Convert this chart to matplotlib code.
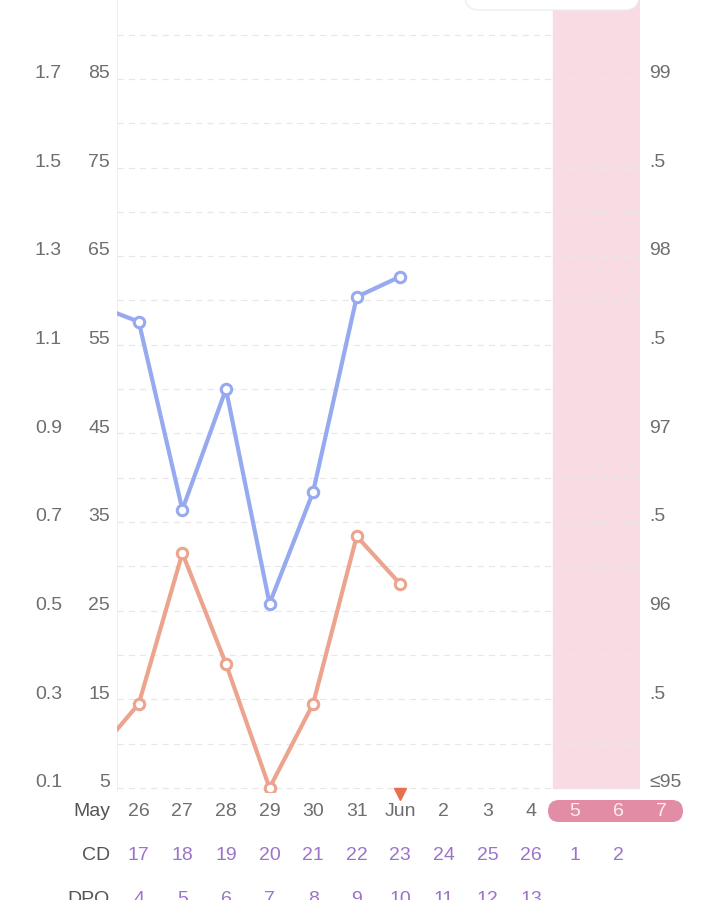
import matplotlib.pyplot as plt
from matplotlib.patches import FancyBboxPatch, Rectangle
from matplotlib.transforms import blended_transform_factory

plt.rcParams['font.family'] = ['Liberation Sans', 'DejaVu Sans']

# day index 0 = May 26, -1 = May 25 (off the left edge)
days = [-1, 0, 1, 2, 3, 4, 5, 6]
blue = [59.5, 57.6, 36.4, 50.0, 25.8, 38.4, 60.4, 62.7]
orange = [8.7, 14.5, 31.5, 19.0, 5.0, 14.5, 33.4, 28.0]

date_labels = ['26', '27', '28', '29', '30', '31', 'Jun', '2', '3', '4', '5', '6', '7']
cd_labels = ['17', '18', '19', '20', '21', '22', '23', '24', '25', '26', '1', '2']
dpo_labels = ['4', '5', '6', '7', '8', '9', '10', '11', '12', '13']

left_ticks = [5, 15, 25, 35, 45, 55, 65, 75, 85]
left_a = ['0.1', '0.3', '0.5', '0.7', '0.9', '1.1', '1.3', '1.5', '1.7']
right_b = ['≤95', '.5', '96', '.5', '97', '.5', '98', '.5', '99']

GRAY = '#6e6e6e'
PURPLE = '#9b74c9'
FS = 14

fig = plt.figure(figsize=(7.19, 9.0), dpi=100)
ax = fig.add_axes([117 / 719, 1 - 792.4 / 900, 523 / 719, 792.4 / 900])
ax.set_xlim(-0.5, 11.5)
ax.set_ylim(4.5, 93.9)
for s in ax.spines.values():
    s.set_visible(False)
ax.set_xticks([])
ax.set_yticks([])

# period shading
ax.add_patch(Rectangle((9.5, 5), 2.0, 100, color='#f9dbe3', zorder=0))

for v in range(5, 95, 5):
    ax.axhline(v, color='#e8e8e8', lw=0.9, ls=(0, (5, 4)), zorder=1)
ax.axvline(-0.5, color='#ececec', lw=1.2, zorder=1)

ax.plot(days, blue, color='#97a9ef', lw=3.0, marker='o', ms=7.5,
        mfc='white', mec='#97a9ef', mew=2.2, zorder=3)
ax.plot(days, orange, color='#eca48f', lw=3.0, marker='o', ms=7.5,
        mfc='white', mec='#eca48f', mew=2.2, zorder=3)

# axis labels drawn as text (sit slightly above their grid line)
ty = blended_transform_factory(fig.transFigure, ax.transData)
for v, a, b in zip(left_ticks, left_a, right_b):
    fig.text(62 / 719, v + 0.6, a, transform=ty, ha='right', va='center', fontsize=FS, color=GRAY)
    fig.text(110 / 719, v + 0.6, str(v), transform=ty, ha='right', va='center',
             fontsize=FS, color=GRAY)
    fig.text(649 / 719, v + 0.6, b, transform=ty, ha='left', va='center', fontsize=FS, color=GRAY)

tx = blended_transform_factory(ax.transData, fig.transFigure)
y_date = 1 - 812 / 900
y_cd = 1 - 856 / 900
y_dpo = 1 - 900 / 900

# pill behind period dates
pill = FancyBboxPatch((548 / 719, 1 - 822 / 900), 135 / 719, 22 / 900,
                      boxstyle='round,pad=0,rounding_size=0.0153',
                      transform=fig.transFigure, fc='#e28da5', ec='none',
                      mutation_aspect=719 / 900, zorder=4, clip_on=False)
ax.add_patch(pill)

fig.text(110 / 719, y_date, 'May', ha='right', va='center', fontsize=FS, color='#555555')
fig.text(110 / 719, y_cd, 'CD', ha='right', va='center', fontsize=FS, color='#555555')
fig.text(110 / 719, y_dpo, 'DPO', ha='right', va='center', fontsize=FS, color='#555555')
for i, t in enumerate(date_labels):
    c = '#fbeef2' if i >= 10 else GRAY
    ax.text(i, y_date, t, transform=tx, ha='center', va='center', fontsize=FS,
            color=c, clip_on=False, zorder=6)
for i, t in enumerate(cd_labels):
    ax.text(i, y_cd, t, transform=tx, ha='center', va='center', fontsize=FS,
            color=PURPLE, clip_on=False)
for i, t in enumerate(dpo_labels):
    ax.text(i, y_dpo, t, transform=tx, ha='center', va='center', fontsize=FS,
            color=PURPLE, clip_on=False)

# today marker
ax.plot([6], [1 - 794 / 900], marker='v', ms=8, color='#e8704f', transform=tx,
        clip_on=False, zorder=5)

# top box (tooltip edge)
box = FancyBboxPatch((465 / 719, 1 - 10 / 900), 174 / 719, 40 / 900,
                     boxstyle='round,pad=0,rounding_size=0.02',
                     transform=fig.transFigure, fc='white', ec='#eeeeee', lw=1.0,
                     mutation_aspect=719 / 900, zorder=10)
fig.patches.append(box)

fig.savefig('out.png', dpi=100)
